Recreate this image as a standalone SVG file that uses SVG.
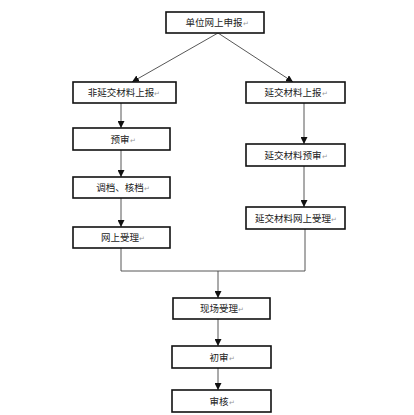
<svg xmlns="http://www.w3.org/2000/svg" width="414" height="415" viewBox="0 0 414 415">
<style>
.box{fill:#fff;stroke:#111;stroke-width:1.6}
.t{font-family:"Noto Sans CJK SC","Noto Sans CJK JP",sans-serif;font-size:9.5px;fill:#222;text-anchor:middle}
.m{fill:#999;font-size:7px}
.c{fill:none;stroke:#444;stroke-width:0.9}
</style>
<defs>
<marker id="a" viewBox="0 0 10 10" refX="10" refY="5" markerWidth="7" markerHeight="7" markerUnits="userSpaceOnUse" orient="auto">
<path d="M0,0 L10,5 L0,10 z" fill="#111"/>
</marker>
</defs>
<rect width="414" height="415" fill="#fff"/>
<g id="connectors">
<line class="c" x1="218" y1="33" x2="132" y2="82" marker-end="url(#a)"/>
<line class="c" x1="218" y1="33" x2="293" y2="82" marker-end="url(#a)"/>
<line class="c" x1="121" y1="103" x2="121" y2="128" marker-end="url(#a)"/>
<line class="c" x1="121" y1="150" x2="121" y2="177" marker-end="url(#a)"/>
<line class="c" x1="121" y1="198" x2="121" y2="227" marker-end="url(#a)"/>
<line class="c" x1="304" y1="103" x2="304" y2="144" marker-end="url(#a)"/>
<line class="c" x1="304" y1="166" x2="304" y2="207" marker-end="url(#a)"/>
<polyline class="c" points="121,248 121,271 305,271 305,229"/>
<line class="c" x1="218" y1="271" x2="218" y2="298" marker-end="url(#a)"/>
<line class="c" x1="218" y1="319" x2="218" y2="346" marker-end="url(#a)"/>
<line class="c" x1="218" y1="368" x2="218" y2="390" marker-end="url(#a)"/>
</g>
<g id="n1"><rect class="box" x="166" y="12" width="98" height="21"/><text class="t" x="217" y="26">单位网上申报<tspan class="m">↵</tspan></text></g>
<g id="n2"><rect class="box" x="73" y="82" width="103" height="21"/><text class="t" x="124" y="96">非延交材料上报<tspan class="m">↵</tspan></text></g>
<g id="n3"><rect class="box" x="246" y="82" width="99" height="21"/><text class="t" x="296" y="96">延交材料上报<tspan class="m">↵</tspan></text></g>
<g id="n4"><rect class="box" x="73" y="128" width="97" height="22"/><text class="t" x="123" y="143">预审<tspan class="m">↵</tspan></text></g>
<g id="n5"><rect class="box" x="73" y="177" width="97" height="21"/><text class="t" x="123" y="191">调档、核档<tspan class="m">↵</tspan></text></g>
<g id="n6"><rect class="box" x="73" y="227" width="97" height="21"/><text class="t" x="123" y="241">网上受理<tspan class="m">↵</tspan></text></g>
<g id="n7"><rect class="box" x="246" y="144" width="99" height="22"/><text class="t" x="296" y="159">延交材料预审<tspan class="m">↵</tspan></text></g>
<g id="n8"><rect class="box" x="246" y="207" width="99" height="22"/><text class="t" x="296" y="222">延交材料网上受理<tspan class="m">↵</tspan></text></g>
<g id="n9"><rect class="box" x="173" y="298" width="97" height="21"/><text class="t" x="222" y="312">现场受理<tspan class="m">↵</tspan></text></g>
<g id="n10"><rect class="box" x="172" y="346" width="99" height="22"/><text class="t" x="222" y="361">初审<tspan class="m">↵</tspan></text></g>
<g id="n11"><rect class="box" x="172" y="390" width="99" height="22"/><text class="t" x="222" y="405">审核<tspan class="m">↵</tspan></text></g>
</svg>
